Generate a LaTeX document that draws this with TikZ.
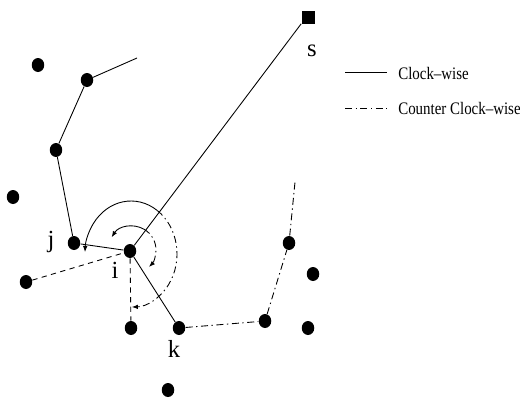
\documentclass[tikz,border=0pt]{standalone}
\usepackage{fontspec}
\setmainfont{Liberation Serif}
\usetikzlibrary{arrows.meta,shapes.geometric}
\begin{document}
\begin{tikzpicture}[x=0.02cm,y=-0.02cm,
  dot/.style={ellipse,fill=black,inner sep=0pt,minimum width=0.25cm,minimum height=0.28cm},
  sq/.style={rectangle,fill=black,inner sep=0pt,minimum size=0.26cm},
  lbl/.style={font=\fontsize{14}{16}\selectfont,inner sep=0pt},
  leg/.style={font=\fontsize{10}{12}\selectfont,inner sep=0pt,anchor=west,xscale=0.85},
  ln/.style={line width=0.5pt},
  cw/.style={ln},
  ccw/.style={ln,dash pattern=on 4pt off 2pt on 0.8pt off 2pt},
  dsh/.style={ln,dash pattern=on 3pt off 2.5pt},
  tip/.style={-{Latex[length=3.5pt,width=2.6pt]}}]
\useasboundingbox (0,0) rectangle (520,403);
% nodes
\node[sq] (s) at (308,17) {};
\node[dot] (a1) at (38,65) {};
\node[dot] (a2) at (87,80) {};
\node[dot] (a3) at (56,150) {};
\node[dot] (a4) at (13,197) {};
\node[dot] (j) at (74,243) {};
\node[dot] (l) at (26,282) {};
\node[dot] (i) at (130,251) {};
\node[dot] (b) at (131,328) {};
\node[dot] (k) at (179,328) {};
\node[dot] (c) at (168,390) {};
\node[dot] (m) at (265,321) {};
\node[dot] (n) at (289,243) {};
\node[dot] (o) at (313,274) {};
\node[dot] (p) at (308,328) {};
\coordinate (e1) at (137,58);
\coordinate (e2) at (295,182);
% labels
\node[lbl] (ls) at (312,51) {s};
\node[lbl] (lj) at (51,242) {j};
\node[lbl] (li) at (115,270) {i};
\node[lbl] (lk) at (174,349) {k};
% connectors
\draw[cw] (s.south west) -- (i);
\draw[cw] (j) -- (i);
\draw[cw] (i) -- (k);
\draw[cw] (e1) -- (a2) -- (a3) -- (j);
\draw[dsh] (l) -- (i);
\draw[dsh] (i) -- (b);
\draw[ccw] (k) -- (m) -- (n) -- (e2);
% big arc
\coordinate (bc) at (131,254);
\draw[cw,tip] ([shift={(-55:46 and 53)}]bc) arc[start angle=-55,end angle=-178,x radius=46,y radius=53];
\draw[ccw,tip] ([shift={(-55:46 and 53)}]bc) arc[start angle=-55,end angle=89,x radius=46,y radius=53];
% small arc
\coordinate (sc) at (132,250);
\draw[cw,tip] ([shift={(-60:24)}]sc) arc[start angle=-60,end angle=-148,radius=24];
\draw[ccw,tip] ([shift={(-60:24)}]sc) arc[start angle=-60,end angle=45,radius=24];
% legend
\coordinate (l1a) at (345,72);
\coordinate (l1b) at (387,72);
\coordinate (l2a) at (345,108);
\coordinate (l2b) at (387,108);
\draw[cw] (l1a) -- (l1b);
\draw[ccw] (l2a) -- (l2b);
\node[leg] (t1) at (398,73) {Clock--wise};
\node[leg] (t2) at (398,108) {Counter Clock--wise};
\end{tikzpicture}
\end{document}
